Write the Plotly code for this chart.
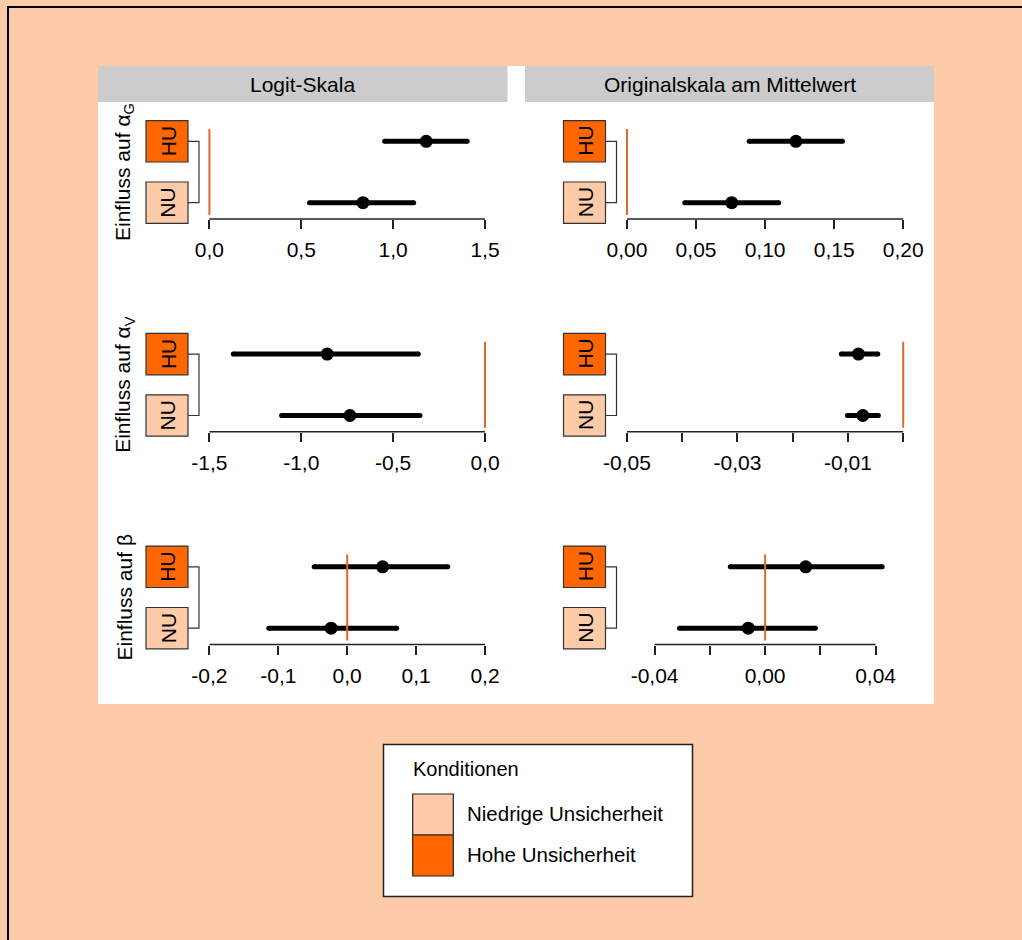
import plotly.graph_objects as go

# ---------------- data ----------------
conditions = ["HU", "NU"]          # HU = Hohe Unsicherheit, NU = Niedrige Unsicherheit
row_pos = [1, 0]

logit_aG_est = [1.18, 0.836]
logit_aG_lo = [0.954, 0.545]
logit_aG_hi = [1.403, 1.112]

orig_aG_est = [0.1223, 0.0758]
orig_aG_lo = [0.0885, 0.0418]
orig_aG_hi = [0.156, 0.1098]

logit_aV_est = [-0.859, -0.735]
logit_aV_lo = [-1.370, -1.107]
logit_aV_hi = [-0.363, -0.354]

orig_aV_est = [-0.0081, -0.0073]
orig_aV_lo = [-0.0112, -0.0101]
orig_aV_hi = [-0.0046, -0.0045]

logit_b_est = [0.0514, -0.0233]
logit_b_lo = [-0.048, -0.1138]
logit_b_hi = [0.146, 0.0718]

orig_b_est = [0.0147, -0.0061]
orig_b_lo = [-0.0126, -0.031]
orig_b_hi = [0.0424, 0.0182]

# labelled ticks, axis line extent and unlabelled tick step
ticks_logit_aG = [0.0, 0.5, 1.0, 1.5]
labels_logit_aG = ["0,0", "0,5", "1,0", "1,5"]
ticks_orig_aG = [0.0, 0.05, 0.10, 0.15, 0.20]
labels_orig_aG = ["0,00", "0,05", "0,10", "0,15", "0,20"]
ticks_logit_aV = [-1.5, -1.0, -0.5, 0.0]
labels_logit_aV = ["-1,5", "-1,0", "-0,5", "0,0"]
ticks_orig_aV = [-0.05, -0.03, -0.01]
labels_orig_aV = ["-0,05", "-0,03", "-0,01"]
axis_orig_aV = [-0.05, 0.0]
minor_orig_aV = 0.01
ticks_logit_b = [-0.2, -0.1, 0.0, 0.1, 0.2]
labels_logit_b = ["-0,2", "-0,1", "0,0", "0,1", "0,2"]
ticks_orig_b = [-0.04, 0.0, 0.04]
labels_orig_b = ["-0,04", "0,00", "0,04"]
axis_orig_b = [-0.04, 0.04]
minor_orig_b = 0.02

col_titles = ["Logit-Skala", "Originalskala am Mittelwert"]
row_titles = ["Einfluss auf α<sub>G</sub>", "Einfluss auf α<sub>V</sub>", "Einfluss auf β"]
legend_title = "Konditionen"
legend_labels = ["Niedrige Unsicherheit", "Hohe Unsicherheit"]

# ---------------- style ----------------
W, H = 1022, 940
BG = "#FDCBA8"
ORANGE = "#FF6600"
PEACH = "#FDCBA8"
ZERO_COL = "#E2692A"
AXCOL = "#222222"
FONT = "Liberation Sans, Arial, sans-serif"
FS = 21


def px(x):
    return x / W


def py(y):
    return 1 - y / H


panels = [
    # (est, lo, hi, ticks, labels, axis extent, minor step, range, col, row)
    (logit_aG_est, logit_aG_lo, logit_aG_hi, ticks_logit_aG, labels_logit_aG,
     [ticks_logit_aG[0], ticks_logit_aG[-1]], None, [0.0, 1.5], 0, 0),
    (orig_aG_est, orig_aG_lo, orig_aG_hi, ticks_orig_aG, labels_orig_aG,
     [ticks_orig_aG[0], ticks_orig_aG[-1]], None, [0.0, 0.2], 1, 0),
    (logit_aV_est, logit_aV_lo, logit_aV_hi, ticks_logit_aV, labels_logit_aV,
     [ticks_logit_aV[0], ticks_logit_aV[-1]], None, [-1.5, 0.0], 0, 1),
    (orig_aV_est, orig_aV_lo, orig_aV_hi, ticks_orig_aV, labels_orig_aV,
     axis_orig_aV, minor_orig_aV, [-0.05, 0.0], 1, 1),
    (logit_b_est, logit_b_lo, logit_b_hi, ticks_logit_b, labels_logit_b,
     [ticks_logit_b[0], ticks_logit_b[-1]], None, [-0.2, 0.2], 0, 2),
    (orig_b_est, orig_b_lo, orig_b_hi, ticks_orig_b, labels_orig_b,
     axis_orig_b, minor_orig_b, [-0.05, 0.05], 1, 2),
]

col_x = [(209.4, 485.0), (627.0, 903.2)]
row_top = [129.0, 341.8, 554.5]
row_h = 86.0
axis_gap = 4.0
YR = [-0.2, 1.2]
box_x = [(146.0, 188.0), (563.5, 605.5)]
box_half = 20.7
PAD = 6.0  # extra pixels on each side of the x domain so edge lines are not clipped


def row_pix(top, v):
    return top + (YR[1] - v) / (YR[1] - YR[0]) * row_h


fig = go.Figure()
layout = dict(
    width=W, height=H, autosize=False,
    margin=dict(l=0, r=0, t=0, b=0, pad=0, autoexpand=False),
    paper_bgcolor=BG, plot_bgcolor="rgba(0,0,0,0)",
    showlegend=False, font=dict(family=FONT, size=FS, color="black"),
)
shapes = []
annotations = []

# figure border (top / left visible)
shapes.append(dict(type="rect", xref="paper", yref="paper", x0=px(8), x1=px(1040), y0=py(7), y1=py(960),
                   line=dict(color="black", width=2), fillcolor="rgba(0,0,0,0)", layer="below"))
# white panel
shapes.append(dict(type="rect", xref="paper", yref="paper", x0=px(98), x1=px(934), y0=py(66), y1=py(704),
                   line=dict(width=0), fillcolor="white", layer="below"))
# strips
for (sx0, sx1), t in zip([(98, 507.5), (525, 934)], col_titles):
    shapes.append(dict(type="rect", xref="paper", yref="paper", x0=px(sx0), x1=px(sx1), y0=py(66), y1=py(102),
                       line=dict(width=0), fillcolor="#CCCCCC", layer="below"))
    annotations.append(dict(xref="paper", yref="paper", x=px((sx0 + sx1) / 2), y=py(84), text=t,
                            showarrow=False, xanchor="center", yanchor="middle", font=dict(size=FS)))

for i, (est, lo, hi, tv, tt, ext, mstep, rng, c, r) in enumerate(panels):
    n = i + 1
    xa = "xaxis" if n == 1 else f"xaxis{n}"
    ya = "yaxis" if n == 1 else f"yaxis{n}"
    xr = "x" if n == 1 else f"x{n}"
    yr = "y" if n == 1 else f"y{n}"
    top = row_top[r]
    bottom = top + row_h
    axis_y = bottom + axis_gap
    d0, d1 = col_x[c]
    upp = (rng[1] - rng[0]) / (d1 - d0)  # data units per pixel
    xrange_padded = [rng[0] - PAD * upp, rng[1] + PAD * upp]
    xdef = dict(domain=[px(d0 - PAD), px(d1 + PAD)], range=xrange_padded, anchor="free",
                position=py(axis_y), showline=False, showgrid=False, zeroline=False,
                tickmode="array", tickvals=tv, ticktext=tt, ticks="outside", ticklen=9,
                tickwidth=1.5, tickcolor=AXCOL, tickfont=dict(size=FS, color="black"),
                ticklabelstandoff=3, automargin=False, fixedrange=True)
    if mstep:
        xdef["minor"] = dict(ticks="outside", ticklen=9, tickwidth=1.5, tickcolor=AXCOL,
                             tick0=0, dtick=mstep, showgrid=False)
    layout[xa] = xdef
    layout[ya] = dict(domain=[py(bottom), py(top)], range=YR, anchor=xr, visible=False,
                      automargin=False, fixedrange=True)
    # axis line over the tick extent
    shapes.append(dict(type="line", xref=xr, yref="paper", x0=ext[0], x1=ext[1], y0=py(axis_y), y1=py(axis_y),
                       line=dict(color=AXCOL, width=1.5)))
    # zero reference line
    shapes.append(dict(type="line", xref=xr, yref=yr + " domain", x0=0, x1=0, y0=0, y1=1,
                       line=dict(color=ZERO_COL, width=2)))
    # condition boxes and bracket (paper coordinates)
    bx0, bx1 = box_x[c]
    ys = []
    for cond, yv in zip(conditions, row_pos):
        fill = ORANGE if cond == "HU" else PEACH
        yc = row_pix(top, yv)
        ys.append(yc)
        shapes.append(dict(type="rect", xref="paper", yref="paper", x0=px(bx0), x1=px(bx1),
                           y0=py(yc + box_half), y1=py(yc - box_half),
                           line=dict(color="#333333", width=1.2), fillcolor=fill))
        annotations.append(dict(xref="paper", yref="paper", x=px((bx0 + bx1) / 2 + 1), y=py(yc), text=cond,
                                textangle=-90, showarrow=False, xanchor="center", yanchor="middle",
                                font=dict(size=FS, color="black")))
    brx = bx1 + 11
    shapes.append(dict(type="path", xref="paper", yref="paper",
                       path=f"M {px(bx1)} {py(ys[0])} L {px(brx)} {py(ys[0])} L {px(brx)} {py(ys[1])} L {px(bx1)} {py(ys[1])}",
                       line=dict(color="#333333", width=1.2)))
    # CI lines (with round-looking ends) and point estimates
    for e, l, h, yv in zip(est, lo, hi, row_pos):
        fig.add_trace(go.Scatter(x=[l, h], y=[yv, yv], mode="lines+markers", xaxis=xr, yaxis=yr,
                                 line=dict(color="black", width=5),
                                 marker=dict(color="black", size=5, line=dict(width=0)),
                                 cliponaxis=False, hoverinfo="skip"))
    fig.add_trace(go.Scatter(x=est, y=row_pos, mode="markers", xaxis=xr, yaxis=yr,
                             marker=dict(color="black", size=13), cliponaxis=False, hoverinfo="skip"))

# row titles
for r, t in enumerate(row_titles):
    cy = row_top[r] + row_h / 2
    annotations.append(dict(xref="paper", yref="paper", x=px(124), y=py(cy), text=t, textangle=-90,
                            showarrow=False, xanchor="center", yanchor="middle", font=dict(size=FS)))

# legend box
shapes.append(dict(type="rect", xref="paper", yref="paper", x0=px(383.5), x1=px(692.5), y0=py(744.5), y1=py(896.5),
                   line=dict(color="#222222", width=1.5), fillcolor="white"))
annotations.append(dict(xref="paper", yref="paper", x=px(411), y=py(769), text=legend_title, showarrow=False,
                        xanchor="left", yanchor="middle", font=dict(size=FS - 1)))
for (y0, y1), fill, lab in zip([(794, 835), (835, 876)], [PEACH, ORANGE], legend_labels):
    shapes.append(dict(type="rect", xref="paper", yref="paper", x0=px(412.7), x1=px(453.3), y0=py(y1), y1=py(y0),
                       line=dict(color="#222222", width=1.2), fillcolor=fill))
    annotations.append(dict(xref="paper", yref="paper", x=px(465), y=py((y0 + y1) / 2 - 1.5), text=lab,
                            showarrow=False, xanchor="left", yanchor="middle", font=dict(size=FS - 0.5)))

layout["shapes"] = shapes
layout["annotations"] = annotations
fig.update_layout(**layout)
fig.write_html("out.html")
